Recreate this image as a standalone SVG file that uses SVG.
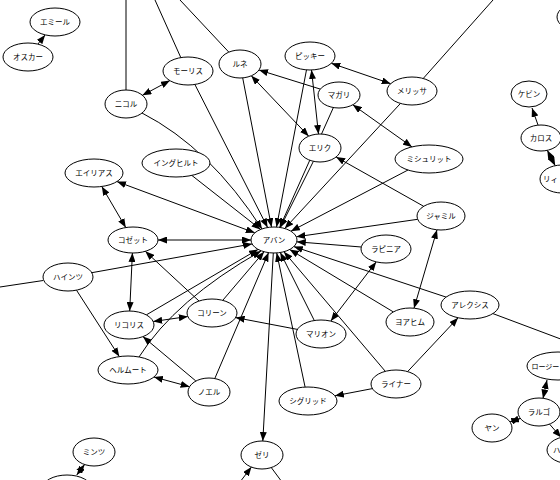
<svg xmlns="http://www.w3.org/2000/svg" width="560" height="480" viewBox="0 0 560 480">
<style>
.n ellipse{fill:#fff;stroke:#000;stroke-width:1}
.n text{font-family:"Noto Sans CJK JP","Noto Sans CJK SC",sans-serif;font-size:7.5px;text-anchor:middle;fill:#000}
.e path{fill:none;stroke:#000;stroke-width:1}
.e .a{marker-end:url(#ah)}
.e .b{marker-start:url(#ah);marker-end:url(#ah)}
</style>
<defs>
<marker id="ah" viewBox="0 0 9 7" refX="9" refY="3.5" markerWidth="9" markerHeight="7" markerUnits="userSpaceOnUse" orient="auto-start-reverse"><path d="M0,0 L9,3.5 L0,7 z" fill="#000"/></marker>
</defs>
<rect width="560" height="480" fill="#fff"/>
<g id="edges" class="e">
<path class="a" d="M142,113 Q210,148 262,229"/>
<path class="a" d="M194.9,84.5 L267.6,227.5"/>
<path class="a" d="M242.7,77.9 L271.5,227.1"/>
<path class="a" d="M306.5,69.8 L276.5,227.1"/>
<path class="a" d="M333.4,107.5 L279.7,227.4"/>
<path class="a" d="M313.4,161.3 L280.3,227.5"/>
<path class="a" d="M400.5,103.4 L284.7,228.5"/>
<path class="a" d="M408,170 L290.9,231.2"/>
<path class="a" d="M417.7,219.3 L296.3,236.8"/>
<path class="a" d="M361.3,247 L296.8,241.8"/>
<path class="a" d="M393.3,311.9 L289.7,249.5"/>
<path class="a" d="M446.1,297.1 L293.8,246.6"/>
<path class="a" d="M314.3,320.5 L280.3,252.5"/>
<path class="a" d="M385.3,371.3 L283.9,251.7"/>
<path class="a" d="M305.1,387.1 L276.7,252.9"/>
<path class="a" d="M222.7,300.4 L264.1,251.7"/>
<path class="a" d="M214.8,378.5 L268.6,252.6"/>
<path class="a" d="M139,357 Q175,300 261,251"/>
<path class="a" d="M146.3,314.9 L258,249.4"/>
<path class="a" d="M91.8,272.7 L252.1,243.9"/>
<path class="a" d="M191.8,175.4 L260.6,229.4"/>
<path class="b" d="M117,181.6 L254.8,232.8"/>
<path class="b" d="M158,240 L251,240"/>
<path class="a" d="M37.9,44.1 L45.1,34.9"/>
<path class="b" d="M142.4,95.3 L169.9,80.6"/>
<path d="M126,90 L126,0"/>
<path d="M181,58 L155,0"/>
<path d="M228.8,52.1 L180,0"/>
<path d="M423.2,78.5 L493,0"/>
<path class="b" d="M331.3,63.3 L390.7,83.7"/>
<path class="b" d="M311.5,70 L318.5,134"/>
<path class="b" d="M352.8,104.8 L412,146.9"/>
<path class="a" d="M320.3,89.1 L259,70"/>
<path class="b" d="M251.3,75.8 L308.7,136.2"/>
<path class="a" d="M423.7,206.3 L336.1,157"/>
<path class="b" d="M437,229.8 L414,308.2"/>
<path class="b" d="M376.2,261.9 L330.8,321.1"/>
<path class="a" d="M297.4,329.4 L235.6,317.6"/>
<path class="b" d="M153.2,321.5 L187.8,316.5"/>
<path class="b" d="M132.4,253 L129.7,311"/>
<path class="b" d="M101.8,186.5 L125.8,227.6"/>
<path class="a" d="M199,301 L145.3,251.3"/>
<path class="a" d="M76.5,290.2 L119.3,356.6"/>
<path d="M43.2,280.5 L0,287"/>
<path class="b" d="M153.9,377 L189.6,386.7"/>
<path class="a" d="M195.9,381 L142.9,336.6"/>
<path class="b" d="M84.6,464.5 L76.7,475.1"/>
<path class="a" d="M273.3,253 L262.8,441"/>
<path class="a" d="M240,482 L251.4,467.1"/>
<path d="M271.3,467.6 L282,482"/>
<path class="a" d="M372.4,388.6 L334.9,395.8"/>
<path class="a" d="M407.6,371.6 L458.1,317.8"/>
<path d="M492.9,313.6 L562,339.5"/>
<path class="a" d="M538,125 L532,108"/>
<path class="b" d="M547.3,150.3 L555.2,165.7"/>
<path class="b" d="M547,380 L543,398.5"/>
<path class="b" d="M520.3,418.4 L510,421.9"/>
<path class="a" d="M549.5,424.1 L561.1,437.4"/>
</g>
<g id="n_aban" class="n"><ellipse cx="274" cy="240" rx="23" ry="13"/><text x="274" y="242.7">アバン</text></g>
<g id="n_emile" class="n"><ellipse cx="55" cy="22" rx="25" ry="14"/><text x="55" y="24.7">エミール</text></g>
<g id="n_oscar" class="n"><ellipse cx="28" cy="57" rx="25" ry="14"/><text x="28" y="59.7">オスカー</text></g>
<g id="n_maurice" class="n"><ellipse cx="188" cy="71" rx="25" ry="14"/><text x="188" y="73.7">モーリス</text></g>
<g id="n_nicole" class="n"><ellipse cx="126" cy="104" rx="21" ry="14"/><text x="126" y="106.7">ニコル</text></g>
<g id="n_rene" class="n"><ellipse cx="240" cy="64" rx="21" ry="14"/><text x="240" y="66.7">ルネ</text></g>
<g id="n_picky" class="n"><ellipse cx="310" cy="56" rx="25" ry="14"/><text x="310" y="58.7">ピッキー</text></g>
<g id="n_melissa" class="n"><ellipse cx="412" cy="91" rx="25" ry="14"/><text x="412" y="93.7">メリッサ</text></g>
<g id="n_magali" class="n"><ellipse cx="339" cy="95" rx="21" ry="13"/><text x="339" y="97.7">マガリ</text></g>
<g id="n_eric" class="n"><ellipse cx="320" cy="148" rx="21" ry="14"/><text x="320" y="150.7">エリク</text></g>
<g id="n_michelitt" class="n"><ellipse cx="429" cy="159" rx="34" ry="14"/><text x="429" y="161.7">ミシュリット</text></g>
<g id="n_kevin" class="n"><ellipse cx="529" cy="94" rx="18" ry="13"/><text x="529" y="96.7">ケビン</text></g>
<g id="n_carlos" class="n"><ellipse cx="541" cy="138" rx="20" ry="13"/><text x="541" y="140.7">カロス</text></g>
<g id="n_ri" class="n"><ellipse cx="562" cy="179" rx="22" ry="14"/><text x="543" y="181.7" style="text-anchor:start">リィ</text></g>
<g id="n_topright" class="n"><ellipse cx="580" cy="17" rx="23" ry="14"/></g>
<g id="n_elias" class="n"><ellipse cx="94" cy="173" rx="29" ry="14"/><text x="94" y="175.7">エイリアス</text></g>
<g id="n_ingehilt" class="n"><ellipse cx="176" cy="163" rx="34" ry="14"/><text x="176" y="165.7">イングヒルト</text></g>
<g id="n_cosette" class="n"><ellipse cx="133" cy="240" rx="25" ry="13"/><text x="133" y="242.7">コゼット</text></g>
<g id="n_heinz" class="n"><ellipse cx="68" cy="277" rx="25" ry="14"/><text x="68" y="279.7">ハインツ</text></g>
<g id="n_colleen" class="n"><ellipse cx="212" cy="313" rx="25" ry="14"/><text x="212" y="315.7">コリーン</text></g>
<g id="n_licoris" class="n"><ellipse cx="129" cy="325" rx="25" ry="14"/><text x="129" y="327.7">リコリス</text></g>
<g id="n_helmut" class="n"><ellipse cx="128" cy="370" rx="30" ry="14"/><text x="128" y="372.7">ヘルムート</text></g>
<g id="n_noel" class="n"><ellipse cx="209" cy="392" rx="21" ry="14"/><text x="209" y="394.7">ノエル</text></g>
<g id="n_mints" class="n"><ellipse cx="94" cy="452" rx="21" ry="14"/><text x="94" y="454.7">ミンツ</text></g>
<g id="n_bottomleft" class="n"><ellipse cx="67" cy="489" rx="25" ry="14"/></g>
<g id="n_zeri" class="n"><ellipse cx="262" cy="455" rx="21" ry="14"/><text x="262" y="457.7">ゼリ</text></g>
<g id="n_jamil" class="n"><ellipse cx="441" cy="216" rx="24" ry="14"/><text x="441" y="218.7">ジャミル</text></g>
<g id="n_lapinia" class="n"><ellipse cx="386" cy="249" rx="25" ry="14"/><text x="386" y="251.7">ラピニア</text></g>
<g id="n_alexis" class="n"><ellipse cx="470" cy="305" rx="29" ry="14"/><text x="470" y="307.7">アレクシス</text></g>
<g id="n_joachim" class="n"><ellipse cx="410" cy="322" rx="24" ry="14"/><text x="410" y="324.7">ヨアヒム</text></g>
<g id="n_marion" class="n"><ellipse cx="321" cy="334" rx="25" ry="14"/><text x="321" y="336.7">マリオン</text></g>
<g id="n_rainer" class="n"><ellipse cx="396" cy="384" rx="25" ry="14"/><text x="396" y="386.7">ライナー</text></g>
<g id="n_sigrid" class="n"><ellipse cx="308" cy="401" rx="29" ry="14"/><text x="308" y="403.7">シグリッド</text></g>
<g id="n_rosie" class="n"><ellipse cx="558" cy="366" rx="31" ry="14"/><text x="531.5" y="368.5" style="text-anchor:start;font-size:7px">ロージー</text></g>
<g id="n_largo" class="n"><ellipse cx="539" cy="412" rx="21" ry="14"/><text x="539" y="414.7">ラルゴ</text></g>
<g id="n_yan" class="n"><ellipse cx="492" cy="428" rx="20" ry="14"/><text x="492" y="430.7">ヤン</text></g>
<g id="n_ha" class="n"><ellipse cx="572" cy="450" rx="25" ry="14"/><text x="553" y="452.7" style="text-anchor:start">ハ</text></g>
</svg>
